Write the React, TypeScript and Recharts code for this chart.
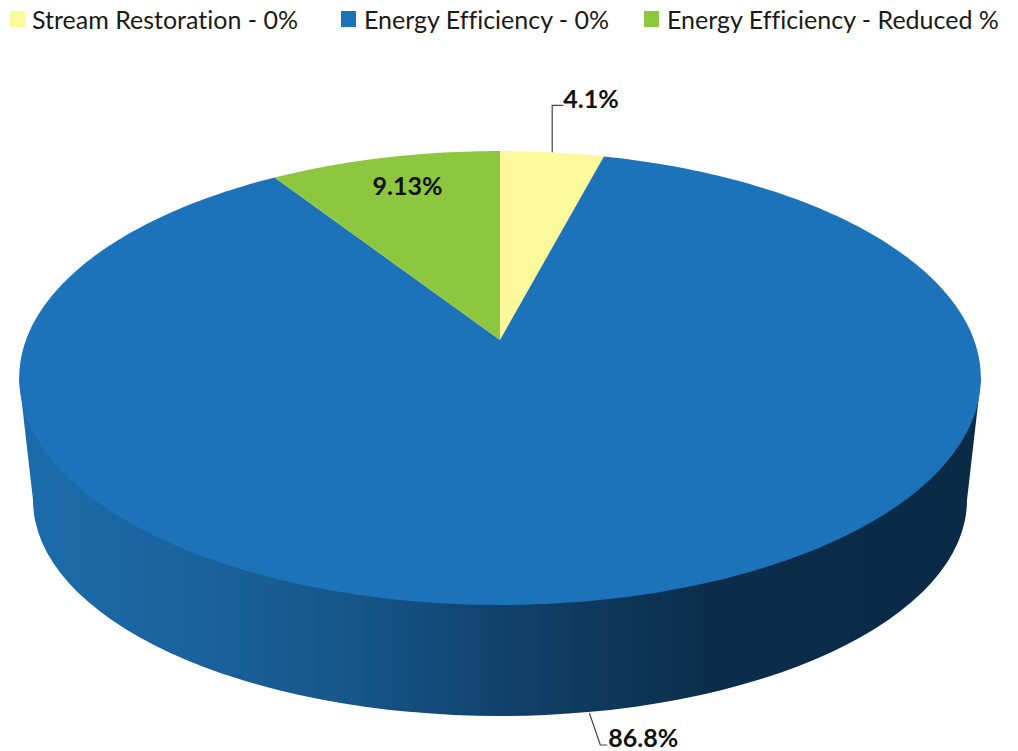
import React from 'react';
import { PieChart, Pie, Cell, Legend } from 'recharts';

const categories = ['Stream Restoration - 0%', 'Energy Efficiency - 0%', 'Energy Efficiency - Reduced %'];
const values = [4.1, 86.8, 9.13];
const valueLabels = ['4.1%', '86.8%', '9.13%'];
const colors = ['#FBF99B', '#1C73B9', '#8DC63F'];

const rows = categories.map((name, i) => ({ name, value: values[i], label: valueLabels[i], fill: colors[i] }));

// Perspective of the tilted disc: a unit circle goes through a projective map.
const K = 0.1674;
const STRETCH_X = 474 / 220;
const STRETCH_Y = 220.6 / 220;
const RIM_RX = 481;
const RIM_DY = 38;
const FLOOR_RX = 467;
const FLOOR_RY = 216;
const FLOOR_DY = 160;
const FONT = 'Lato, "Open Sans", sans-serif';

function project(cx: number, cy: number, r: number, deg: number) {
  const a = (deg * Math.PI) / 180;
  const u = Math.cos(a);
  const v = Math.sin(a);
  const w = 1 + K * v;
  return { x: cx + (STRETCH_X * r * u) / w, y: cy - (STRETCH_Y * r * v) / w };
}

function SectorShape(props: any) {
  const { cx, cy, outerRadius, startAngle, endAngle, fill, index } = props;
  const n = Math.max(2, Math.ceil(Math.abs(endAngle - startAngle)));
  let d = `M${cx} ${cy}`;
  for (let i = 0; i <= n; i++) {
    const p = project(cx, cy, outerRadius, startAngle + ((endAngle - startAngle) * i) / n);
    d += `L${p.x.toFixed(2)} ${p.y.toFixed(2)}`;
  }
  d += 'Z';
  const wall =
    `M${cx - RIM_RX} ${cy + RIM_DY}` +
    `L${cx + RIM_RX} ${cy + RIM_DY}` +
    `L${cx + FLOOR_RX} ${cy + FLOOR_DY}` +
    `A${FLOOR_RX} ${FLOOR_RY} 0 0 1 ${cx - FLOOR_RX} ${cy + FLOOR_DY}Z`;
  return (
    <g>
      {index === 1 && (
        <>
          <defs>
            <linearGradient id="wallShade" x1="0" y1="0" x2="1" y2="0">
              <stop offset="0" stopColor="#1C6CAC" />
              <stop offset="0.2" stopColor="#19619B" />
              <stop offset="0.35" stopColor="#165587" />
              <stop offset="0.5" stopColor="#11426D" />
              <stop offset="0.62" stopColor="#0E3659" />
              <stop offset="0.72" stopColor="#0B2D4B" />
              <stop offset="1" stopColor="#0A2A46" />
            </linearGradient>
          </defs>
          <path d={wall} fill="url(#wallShade)" />
        </>
      )}
      <path d={d} fill={fill} />
    </g>
  );
}

function SliceLabel(props: any) {
  const { cx, cy, outerRadius, midAngle, index } = props;
  const p = project(cx, cy, outerRadius, midAngle);
  const text = valueLabels[index];
  const base = { fontFamily: FONT, fontWeight: 700, fontSize: 25, fill: '#111', dominantBaseline: 'central' as const };
  if (index === 0) {
    return (
      <g>
        <path d={`M${p.x} ${p.y}V${p.y - 47}H${p.x + 11}`} fill="none" stroke="#444" strokeWidth={1.2} />
        <text {...base} x={p.x + 11} y={p.y - 54} textAnchor="start">{text}</text>
      </g>
    );
  }
  if (index === 1) {
    return (
      <g>
        <path d={`M${p.x} ${p.y + 112}L${p.x + 11} ${p.y + 144}H${p.x + 18}`} fill="none" stroke="#444" strokeWidth={1.2} />
        <text {...base} x={p.x + 19} y={p.y + 136} textAnchor="start">{text}</text>
      </g>
    );
  }
  return <text {...base} x={p.x + 23} y={p.y + 27} textAnchor="middle">{text}</text>;
}

function LegendRow(props: any) {
  const lefts = [10, 341, 644];
  return (
    <div style={{ position: 'relative', width: 1018, height: 40 }}>
      {(props.payload || []).map((e: any, i: number) => (
        <div key={e.value} style={{ position: 'absolute', left: lefts[i], top: 4, display: 'flex', alignItems: 'center', height: 30, whiteSpace: 'nowrap' }}>
          <span style={{ display: 'inline-block', width: 15, height: 16, background: colors[i], marginRight: i === 0 ? 7 : 8 }} />
          <span style={{ fontFamily: FONT, fontSize: 25, fontVariantLigatures: 'none', color: '#1a1a1a' }}>{e.value}</span>
        </div>
      ))}
    </div>
  );
}

export default function App() {
  return (
    <div style={{ position: 'absolute', left: 0, top: 0 }}>
      <PieChart width={1018} height={751} margin={{ top: 0, right: 0, bottom: 0, left: 0 }}>
        <Legend verticalAlign="top" align="left" itemSorter={null} content={<LegendRow />} wrapperStyle={{ left: 0, top: 0, width: 1018 }} />
        <Pie
          data={rows}
          dataKey="value"
          nameKey="name"
          cx={500}
          cy={300}
          outerRadius={220}
          startAngle={90}
          endAngle={-270}
          paddingAngle={0}
          stroke="none"
          isAnimationActive={false}
          shape={SectorShape}
          label={SliceLabel}
          labelLine={false}
        >
          {rows.map((r) => (
            <Cell key={r.name} fill={r.fill} />
          ))}
        </Pie>
      </PieChart>
    </div>
  );
}
